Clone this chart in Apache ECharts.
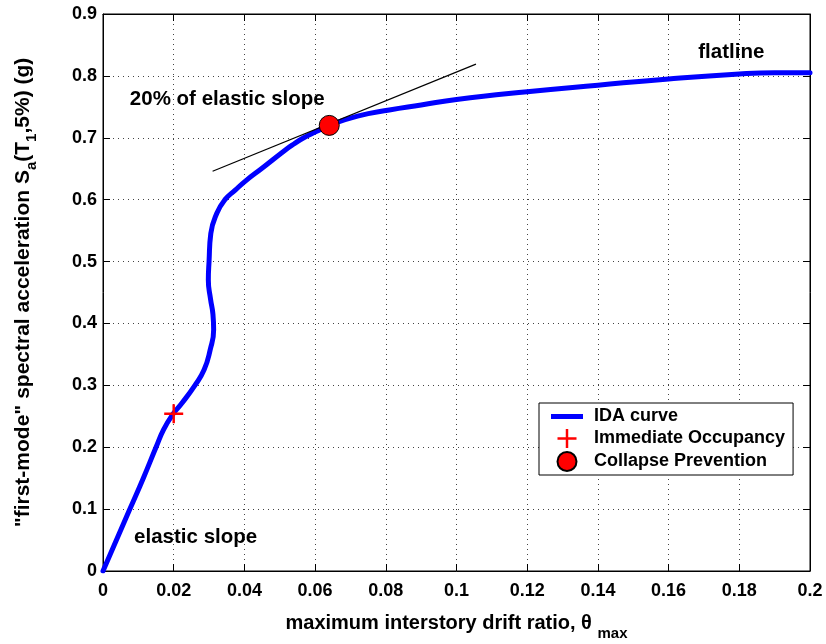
<!DOCTYPE html>
<html>
<head>
<meta charset="utf-8">
<script src="https://cdn.jsdelivr.net/npm/echarts@6/dist/echarts.min.js"></script>
<style>html,body{margin:0;padding:0;background:#fff;}#c{width:826px;height:644px;}</style>
</head>
<body>
<div id="c"></div>
<script>
// IDA curve: [drift ratio, Sa(g)]
var idaX = [0, 0.0038, 0.0076, 0.0114, 0.0150, 0.0171, 0.0196, 0.0223, 0.026, 0.0286, 0.0303, 0.0313, 0.0311, 0.0304, 0.0298, 0.03, 0.0305, 0.0322, 0.0345, 0.0374, 0.0407, 0.0448, 0.0515, 0.054, 0.0568, 0.0603, 0.064, 0.072, 0.081, 0.09, 0.1, 0.12, 0.14, 0.16, 0.18, 0.19, 0.2];
var idaY = [0, 0.05, 0.1, 0.15, 0.2, 0.228, 0.252, 0.271, 0.3, 0.325, 0.357, 0.39, 0.415, 0.44, 0.47, 0.5, 0.5455, 0.578, 0.6, 0.6155, 0.632, 0.65, 0.68, 0.69, 0.7, 0.71, 0.72, 0.735, 0.745, 0.753, 0.762, 0.7745, 0.785, 0.795, 0.803, 0.805, 0.805];
// Limit-state points
var ioPoint = [0.02, 0.254];
var cpPoint = [0.064, 0.72];
// 20% elastic slope tangent line endpoints
var tangentX = [0.031, 0.1055];
var tangentY = [0.646, 0.819];
// Annotations
var annotationText = ['20% of elastic slope', 'flatline', 'elastic slope'];
var annotationX = [0.0076, 0.1684, 0.0088];
var annotationY = [0.7625, 0.8385, 0.055];
// Axis ticks
var xTicks = [0, 0.02, 0.04, 0.06, 0.08, 0.1, 0.12, 0.14, 0.16, 0.18, 0.2];
var yTicks = [0, 0.1, 0.2, 0.3, 0.4, 0.5, 0.6, 0.7, 0.8, 0.9];

var FONT = 'Liberation Sans, Arial, Helvetica, sans-serif';
var idaData = idaX.map(function (x, i) { return [x, idaY[i]]; });
var tangentData = tangentX.map(function (x, i) { return [x, tangentY[i]]; });
var annData = annotationText.map(function (t, i) { return { value: [annotationX[i], annotationY[i]], name: t }; });
var plusPath = 'path://M-1.3,-10 L1.3,-10 L1.3,-1.3 L10,-1.3 L10,1.3 L1.3,1.3 L1.3,10 L-1.3,10 L-1.3,1.3 L-10,1.3 L-10,-1.3 L-1.3,-1.3 Z';
var linePath = 'path://M0,0 L32,0 L32,5 L0,5 Z';

var chart = echarts.init(document.getElementById('c'), null, { renderer: 'canvas' });
var tickLabelStyle = { color: '#000', fontSize: 18, fontWeight: 'bold', fontFamily: FONT };
var option = {
  backgroundColor: '#fff',
  animation: false,
  grid: { left: 103, right: 16, top: 14, bottom: 73, containLabel: false, outerBoundsMode: 'none',
    show: true, borderColor: '#000', borderWidth: 1, backgroundColor: 'transparent' },
  xAxis: [{
    type: 'value', min: xTicks[0], max: xTicks[xTicks.length - 1], interval: 0.02, position: 'bottom',
    axisLine: { show: true, onZero: false, lineStyle: { color: '#000', width: 1 } },
    axisTick: { show: true, inside: true, length: 7, lineStyle: { color: '#000' } },
    axisLabel: { show: true, margin: 11, formatter: function (v) { return +v.toFixed(2) + ''; }, ...tickLabelStyle },
    splitLine: { show: true, lineStyle: { color: '#444', width: 1, type: [1, 4] } },
    name: 'maximum interstory drift ratio, θ {sub|max}',
    nameLocation: 'middle', nameGap: 35,
    nameTextStyle: { color: '#000', fontSize: 20, fontWeight: 'bold', fontFamily: FONT,
      rich: { sub: { fontSize: 15, fontWeight: 'bold', fontFamily: FONT, color: '#000', padding: [20, 0, 0, 0] } } }
  }, {
    type: 'value', min: xTicks[0], max: xTicks[xTicks.length - 1], interval: 0.02, position: 'top',
    axisLine: { show: true, onZero: false, lineStyle: { color: '#000' } },
    axisTick: { show: true, inside: true, length: 7, lineStyle: { color: '#000' } },
    axisLabel: { show: false }, splitLine: { show: false }
  }],
  yAxis: [{
    type: 'value', min: yTicks[0], max: yTicks[yTicks.length - 1], interval: 0.1, position: 'left',
    axisLine: { show: true, onZero: false, lineStyle: { color: '#000', width: 1 } },
    axisTick: { show: true, inside: true, length: 7, lineStyle: { color: '#000' } },
    axisLabel: { show: true, margin: 6, formatter: function (v) { return +v.toFixed(1) + ''; }, ...tickLabelStyle },
    splitLine: { show: true, lineStyle: { color: '#444', width: 1, type: [1, 4] } },
    name: '"first-mode" spectral acceleration S{sub|a}(T{sub|1},5%) (g)',
    nameLocation: 'middle', nameGap: 64, nameRotate: 90,
    nameTextStyle: { color: '#000', fontSize: 21, fontWeight: 'bold', fontFamily: FONT,
      rich: { sub: { fontSize: 15, fontWeight: 'bold', fontFamily: FONT, color: '#000', padding: [16, 0, 0, 0] } } }
  }, {
    type: 'value', min: yTicks[0], max: yTicks[yTicks.length - 1], interval: 0.1, position: 'right',
    axisLine: { show: true, onZero: false, lineStyle: { color: '#000' } },
    axisTick: { show: true, inside: true, length: 7, lineStyle: { color: '#000' } },
    axisLabel: { show: false }, splitLine: { show: false }
  }],
  legend: {
    show: true, orient: 'vertical', left: 539, top: 403,
    data: [
      { name: 'IDA curve', icon: linePath },
      { name: 'Immediate Occupancy', icon: plusPath },
      { name: 'Collapse Prevention', icon: 'circle' }
    ],
    itemWidth: 32, itemHeight: 19, itemGap: 3,
    padding: [4, 8, 3, 12],
    backgroundColor: '#fff', borderColor: '#000', borderWidth: 1, borderRadius: 0,
    textStyle: { color: '#000', fontSize: 18, fontWeight: 'bold', fontFamily: FONT, lineHeight: 19, padding: [0, 0, 0, 6] }
  },
  series: [
    {
      name: 'IDA curve', type: 'line', xAxisIndex: 0, yAxisIndex: 0, data: idaData,
      showSymbol: false, symbol: 'none', smooth: 0.5, z: 3,
      lineStyle: { color: '#0000ff', width: 5, cap: 'round', join: 'round' }, itemStyle: { color: '#0000ff' }
    },
    {
      name: 'tangent', type: 'line', data: tangentData, showSymbol: false, symbol: 'none', z: 4,
      lineStyle: { color: '#000', width: 1.2 }
    },
    {
      name: 'Immediate Occupancy', type: 'scatter', data: [ioPoint], symbol: plusPath, symbolSize: 19, z: 5,
      itemStyle: { color: '#ff0000', opacity: 1 }
    },
    {
      name: 'Collapse Prevention', type: 'scatter', data: [cpPoint], symbol: 'circle', symbolSize: 20, z: 5,
      itemStyle: { color: '#ff0000', borderColor: '#000', borderWidth: 1, opacity: 1 }
    },
    {
      name: 'annotations', type: 'scatter', data: annData, symbolSize: 0, z: 6, silent: true,
      itemStyle: { opacity: 1 },
      label: { show: true, position: 'right', distance: 0, formatter: function (p) { return p.name; },
        color: '#000', opacity: 1, fontSize: 20.5, fontWeight: 'bold', fontFamily: FONT }
    }
  ]
};
chart.setOption(option);
</script>
</body>
</html>
